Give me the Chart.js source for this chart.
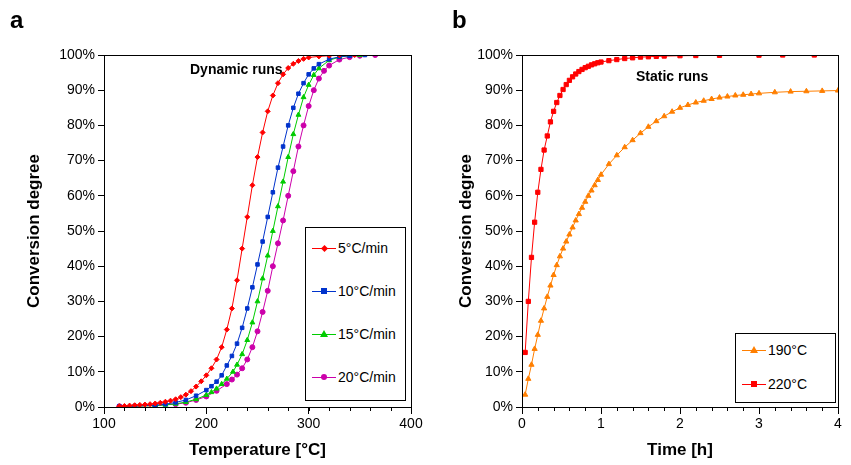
<!DOCTYPE html>
<html>
<head>
<meta charset="utf-8">
<script src="https://cdn.jsdelivr.net/npm/chart.js@4/dist/chart.umd.min.js"></script>
<style>
body{margin:0;background:#fff;font-family:Arial,"Liberation Sans",sans-serif;}
#wrap{position:relative;width:851px;height:465px;}
canvas{position:absolute;top:0;}
.lbl{position:absolute;font-weight:bold;}
.leg{position:absolute;border:1px solid #000;background:#fff;font-size:14px;}
.leg div{position:absolute;left:6px;white-space:nowrap;line-height:16px;}
.leg span{display:inline-block;width:24px;height:16px;vertical-align:top;margin-right:2px;position:relative;}
</style>
</head>
<body>
<div id="wrap">
  <canvas id="chartA" width="425" height="465" style="left:0"></canvas>
  <canvas id="chartB" width="426" height="465" style="left:425px"></canvas>
  <div class="lbl" style="left:10px;top:6px;font-size:24px">a</div>
  <div class="lbl" style="left:452px;top:6px;font-size:24px">b</div>
  <div class="lbl" style="left:190px;top:61px;font-size:14px">Dynamic runs</div>
  <div class="lbl" style="left:636px;top:68px;font-size:14px">Static runs</div>
  <div class="leg" id="legA" style="left:305px;top:227px;width:99px;height:172px"></div>
  <div class="leg" id="legB" style="left:735px;top:333px;width:99px;height:68px"></div>
</div>
<script>
// dynamic runs: temperature [°C] and conversion [%]
const temp5 = [115,120,125,130,135,140,145,150,155,160,165,170,175,180,185,190,195,200,205,210,215,220,225,230,235,240,245,250,255,260,265,270,275,280,285,290,295,300,310,320,330,345];
const conv5 = [0.2,0.3,0.4,0.5,0.6,0.7,0.8,1.0,1.2,1.5,1.8,2.2,2.8,3.5,4.5,5.8,7.3,9.0,11,13.5,17,22,28,36,45,54,63,71,78,84,88.5,92,94.5,96.3,97.5,98.3,98.9,99.3,99.6,99.8,99.9,100];
const temp10 = [115,130,150,160,170,180,190,200,205,210,215,220,225,230,235,240,245,250,255,260,265,270,275,280,285,290,295,300,305,310,320,330,340,355];
const conv10 = [0.2,0.3,0.5,0.8,1.3,2.0,3.2,4.8,5.9,7.2,9,11.8,14.5,18,22.5,28,34,40.5,47,54,61,68,74,80,85,89,92,94.5,96.2,97.4,98.8,99.5,99.8,100];
const temp15 = [115,150,160,170,180,190,200,205,210,215,220,226,230,235,240,245,250,255,260,265,270,275,280,285,290,295,300,305,310,320,330,340,350];
const conv15 = [0.1,0.4,0.6,0.9,1.4,2.2,3.4,4.2,5.2,6.5,8,10,12,15,19,24,30,36.5,43,50,57,64,71,77.5,83,88,91.5,94.3,96.2,98.5,99.4,99.8,100];
const temp20 = [115,150,170,180,190,200,210,220,225,230,235,240,245,250,255,260,265,270,275,280,285,290,295,300,305,310,315,320,330,340,350,365];
const conv20 = [0.2,0.4,0.8,1.2,2,3,4.6,6.5,7.8,9.2,11,13.5,17,21.5,27,33,40,46.5,53,60,67,74,80,85.5,90,93.3,95.5,97,98.7,99.4,99.8,100];

// static runs: time [h] and conversion [%]
const time190 = [0.04,0.08,0.12,0.16,0.2,0.24,0.28,0.32,0.36,0.4,0.44,0.48,0.52,0.56,0.6,0.64,0.68,0.72,0.76,0.8,0.84,0.88,0.92,0.96,1.0,1.1,1.2,1.3,1.4,1.5,1.6,1.7,1.8,1.9,2.0,2.1,2.2,2.3,2.4,2.5,2.6,2.7,2.8,2.9,3.0,3.2,3.4,3.6,3.8,4.0];
const conv190 = [3.5,8,12,16.5,20.5,24.5,28,31.3,34.5,37.5,40.3,42.8,45,47,49,51,53,54.8,56.6,58.3,60,61.5,63,64.5,66,69,71.5,73.8,75.8,77.8,79.6,81.2,82.6,83.9,85,85.8,86.5,87,87.5,87.9,88.2,88.5,88.7,88.9,89.1,89.4,89.6,89.7,89.8,89.9];
const time220 = [0.04,0.08,0.12,0.16,0.2,0.24,0.28,0.32,0.36,0.4,0.44,0.48,0.52,0.56,0.6,0.64,0.68,0.72,0.76,0.8,0.84,0.88,0.92,0.96,1.0,1.1,1.2,1.3,1.4,1.5,1.6,1.7,1.8,2.0,2.2,2.5,3.0,3.3,3.7];
const conv220 = [15.5,30,42.5,52.5,61,67.5,73,77,81,84,86.5,88.5,90.2,91.6,92.8,93.8,94.6,95.3,95.9,96.4,96.8,97.2,97.5,97.8,98.0,98.4,98.7,99.0,99.2,99.4,99.5,99.6,99.7,99.8,99.85,99.9,99.95,100,100];

const pctTicks = [0,10,20,30,40,50,60,70,80,90,100];

function pts(xs, ys){ return xs.map((x,k)=>({x:x, y:ys[k]})); }

function series(label, xs, ys, color, shape, r){
  return {label:label, data:pts(xs,ys), borderColor:color, backgroundColor:color,
    borderWidth:1, pointStyle:shape, pointRadius:r, pointHoverRadius:r, showLine:true, tension:0};
}

// minor tick marks + frame
const frame = {
  id:'frame',
  afterDraw(chart, args, opts){
    const c = chart.ctx, a = chart.chartArea, xs = chart.scales.x;
    c.save();
    c.strokeStyle='#000'; c.lineWidth=1;
    c.strokeRect(a.left+0.5, a.top+0.5, a.right-a.left, a.bottom-a.top);
    c.beginPath();
    for(let v=xs.min; v<=xs.max+1e-9; v+=opts.minor){
      const px = Math.round(xs.getPixelForValue(v))+0.5;
      c.moveTo(px, a.bottom); c.lineTo(px, a.bottom+4);
    }
    c.stroke();
    c.restore();
  }
};

function makeChart(id, datasets, xmin, xmax, xstep, minor, xtitle, lpad, yw, rpad){
  return new Chart(document.getElementById(id), {
    type:'scatter',
    data:{datasets:datasets},
    plugins:[frame],
    options:{
      responsive:false, animation:false,
      layout:{padding:{top:55, right:rpad, left:lpad, bottom:0}},
      plugins:{legend:{display:false}, tooltip:{enabled:false}, frame:{minor:minor}},
      scales:{
        x:{type:'linear', min:xmin, max:xmax,
          ticks:{stepSize:xstep, color:'#000', font:{size:14, family:'Arial'}, padding:2},
          grid:{drawOnChartArea:false, tickLength:7, color:'#000'},
          border:{color:'#000'},
          title:{display:true, text:xtitle, color:'#000', font:{size:17, weight:'bold', family:'Arial'}, padding:{top:0}},
          afterFit(s){ s.height = 58; }},
        y:{min:0, max:100,
          afterBuildTicks(s){ s.ticks = pctTicks.map(v=>({value:v})); },
          ticks:{color:'#000', font:{size:14, family:'Arial'}, callback:v=>v+'%', padding:3},
          grid:{drawOnChartArea:false, tickLength:6, color:'#000'},
          border:{color:'#000'},
          title:{display:true, text:'Conversion degree', color:'#000', font:{size:17, weight:'bold', family:'Arial'}, padding:{bottom:2}},
          afterFit(s){ s.width = yw; }}
      }
    }
  });
}

const dsA = [
  series('5°C/min', temp5, conv5, '#ff0000', 'rectRot', 2.5),
  series('10°C/min', temp10, conv10, '#0033cc', 'rect', 2.5),
  series('15°C/min', temp15, conv15, '#00cc00', 'triangle', 2.8),
  series('20°C/min', temp20, conv20, '#cc00aa', 'circle', 2.5)
];
const dsB = [
  series('190°C', time190, conv190, '#ff7f00', 'triangle', 3),
  series('220°C', time220, conv220, '#ff0000', 'rect', 3)
];
makeChart('chartA', dsA, 100, 400, 100, 20, 'Temperature [°C]', 20, 84, 14);
makeChart('chartB', dsB, 0, 4, 1, 0.2, 'Time [h]', 27, 70, 13);

// html legends with css-drawn markers
function marker(shape, col){
  const base = 'position:absolute;left:9px;top:5px;width:6px;height:6px;';
  if(shape==='triangle')
    return '<i style="position:absolute;left:8px;top:4px;width:0;height:0;border-left:4px solid transparent;border-right:4px solid transparent;border-bottom:7px solid '+col+'"></i>';
  let extra = 'background:'+col+';';
  if(shape==='circle') extra += 'border-radius:50%;';
  if(shape==='rectRot') extra += 'transform:rotate(45deg);width:5px;height:5px;left:9.5px;top:5.5px;';
  return '<i style="'+base+extra+'"></i>';
}
function legend(id, ds, gap, top){
  const box = document.getElementById(id);
  ds.forEach((d,k)=>{
    const row = document.createElement('div');
    row.style.top = (top + k*gap) + 'px';
    row.innerHTML = '<span><i style="position:absolute;left:0;right:0;top:8px;border-top:1px solid '+d.borderColor+'"></i>'+
      marker(d.pointStyle, d.borderColor)+'</span>'+d.label;
    box.appendChild(row);
  });
}
legend('legA', dsA, 43, 12);
legend('legB', dsB, 34, 8);
</script>
</body>
</html>
